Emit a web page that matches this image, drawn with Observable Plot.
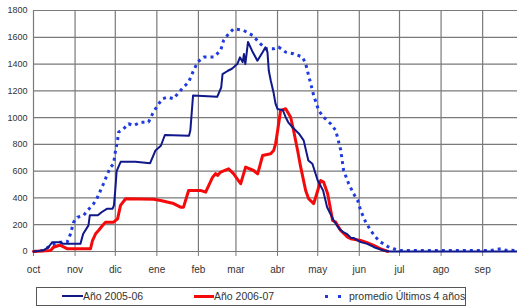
<!DOCTYPE html>
<html>
<head>
<meta charset="utf-8">
<script src="https://cdn.jsdelivr.net/npm/d3@7"></script>
<script src="https://cdn.jsdelivr.net/npm/@observablehq/plot@0.6"></script>
<style>
  html, body { margin: 0; padding: 0; background: #fff; }
  #wrap { position: relative; width: 517px; height: 307px; font-family: "Liberation Sans", Arial, sans-serif; }
  #legend { position: absolute; left: 36px; top: 287px; width: 428px; height: 17px; border: 1px solid #555; font-size: 10.5px; color: #333; }
  .item { position: absolute; top: 0; height: 17px; line-height: 17px; white-space: nowrap; }
  .sw { position: absolute; }
</style>
</head>
<body>
<div id="wrap"></div>
<script>
// Month starts (days since 1 Oct) and labels
const monthDays = [0, 31, 61, 92, 123, 151, 182, 212, 243, 273, 304, 335];
const monthLabels = ["oct", "nov", "dic", "ene", "feb", "mar", "abr", "may", "jun", "jul", "ago", "sep"];
const yTicks = [0, 200, 400, 600, 800, 1000, 1200, 1400, 1600, 1800];

// Año 2005-06 : [day, value]
const serie0506 = [[0,0],[7,7],[11,30],[14,70],[20,70],[22,57],[35,57],[37,130],[41,195],[42,270],[48,270],[51,295],[55,320],[59,320],[60,345],[61,460],[62,600],[65,670],[76,670],[87,660],[91,755],[95,790],[98,870],[116,865],[117,905],[119,1165],[137,1155],[140,1225],[141,1325],[145,1350],[148,1365],[152,1400],[154,1450],[156,1415],[157,1475],[158,1400],[160,1565],[163,1500],[167,1425],[171,1490],[173,1525],[174.5,1490],[175.5,1350],[177,1275],[179,1190],[180.5,1105],[182,1065],[186,1055],[188,1005],[190,965],[193,930],[198,880],[201.5,830],[205,680],[208,655],[212,530],[216,455],[219,330],[224,230],[228,170],[231,145],[234,130],[237,100],[239,100],[244,70],[249,57],[254,32],[261,7],[266,0],[361,0]];

// Año 2006-07 : [day, value]
const serie0607 = [[0,0],[12.7,7],[14.9,32],[18.7,45],[20.1,45],[25.4,20],[42.5,20],[44,82],[46.3,132],[48.5,157],[51.5,194],[53.7,219],[59.7,219],[62.7,244],[64.9,344],[68.7,394],[89.6,390],[94.8,381],[104.5,358],[109.7,331],[111.9,331],[115.7,456],[124.6,456],[128.4,443],[133.6,555],[135.8,582],[137.3,568],[139.6,593],[145.5,618],[149.3,580],[154.5,506],[158.2,630],[164.2,605],[167.2,580],[170.9,717],[176.9,730],[179.1,754],[180.6,806],[182.1,904],[184.3,1053],[188.1,1066],[191.8,1003],[194,904],[195.5,829],[197,754],[199.3,630],[203,456],[205.2,394],[209,358],[212,456],[214.2,530],[216.4,518],[219.4,431],[223.1,232],[225.4,219],[229.1,157],[234.3,107],[236.6,95],[244,82],[247.8,70],[253.7,45],[259,20],[264.2,0]];

// promedio Últimos 4 años : [day, value]
const seriePromedio = [[0,0],[7.5,7],[12.7,45],[20.1,70],[25.1,70],[27.6,132],[29.9,219],[32.8,256],[37.3,269],[40.3,306],[44.8,356],[47.8,406],[50,456],[52.2,506],[55.2,580],[57.5,630],[59.7,655],[61.2,754],[62.7,829],[63.4,891],[67.2,916],[70.9,954],[74.6,941],[79.9,966],[85.8,966],[88.8,1028],[92.5,1091],[96.3,1141],[100,1153],[104.5,1141],[107.5,1178],[111.9,1227],[115.7,1265],[119.4,1352],[122.4,1414],[126.9,1452],[134.3,1452],[139.6,1502],[141.8,1577],[145.5,1626],[149.3,1664],[156.7,1651],[163.4,1614],[167.9,1564],[173.1,1514],[179.1,1514],[182.8,1527],[188.1,1489],[194,1477],[200.7,1452],[203,1402],[205.2,1315],[209,1165],[212.7,1053],[216.4,1003],[221.6,954],[225.4,904],[229.1,760],[231.3,605],[235.1,506],[238.8,431],[241.8,381],[244,306],[247.8,219],[251.5,157],[255.2,107],[259,70],[264.2,37],[268.7,20],[273.9,7],[341,7],[344.8,15],[348.5,20],[352.2,10],[361.2,7]];

const toRows = arr => arr.map(([d, v]) => ({d, v}));
const labelByDay = new Map(monthDays.map((d, i) => [d, monthLabels[i]]));

const chart = Plot.plot({
  width: 517,
  height: 284,
  marginTop: 10,
  marginBottom: 33,
  marginLeft: 33,
  marginRight: 0,
  style: {fontFamily: "'Liberation Sans', Arial, sans-serif", background: "#fff"},
  x: {type: "linear", domain: [0, 361]},
  y: {domain: [0, 1800]},
  marks: [
    Plot.gridY(yTicks, {stroke: "#7a7a7a", strokeOpacity: 1, strokeWidth: 1.2}),
    Plot.gridX(monthDays, {stroke: "#7a7a7a", strokeOpacity: 1, strokeWidth: 1.2}),
    Plot.axisY(yTicks, {tickSize: 0, tickPadding: 6, fontSize: 9, fill: "#333", label: null, tickFormat: d => String(d)}),
    Plot.axisX(monthDays, {tickSize: 5, tickPadding: 9, fontSize: 10, fill: "#333", stroke: "#7a7a7a", label: null, tickFormat: d => labelByDay.get(d)}),
    Plot.line(toRows(seriePromedio), {x: "d", y: "v", stroke: "#1f3be0", strokeWidth: 3, strokeDasharray: "3 4", strokeLinecap: "butt", strokeLinejoin: "miter"}),
    Plot.line(toRows(serie0607), {x: "d", y: "v", stroke: "#f40a0a", strokeWidth: 3, strokeLinejoin: "round"}),
    Plot.line(toRows(serie0506), {x: "d", y: "v", stroke: "#10188a", strokeWidth: 2, strokeLinejoin: "round"})
  ]
});

const wrap = document.getElementById("wrap");
wrap.appendChild(chart);

const legend = document.createElement("div");
legend.id = "legend";
legend.innerHTML = `
  <div class="sw" style="left:25px;top:7px;width:21px;height:2px;background:#10188a"></div>
  <div class="item" style="left:46px">Año 2005-06</div>
  <div class="sw" style="left:157px;top:7px;width:20px;height:3px;background:#f40a0a"></div>
  <div class="item" style="left:177px">Año 2006-07</div>
  <div class="sw" style="left:288px;top:7px;width:3px;height:3px;background:#1f3be0"></div>
  <div class="sw" style="left:301px;top:7px;width:3px;height:3px;background:#1f3be0"></div>
  <div class="item" style="left:312px">promedio Últimos 4 años</div>`;
wrap.appendChild(legend);
</script>
</body>
</html>
